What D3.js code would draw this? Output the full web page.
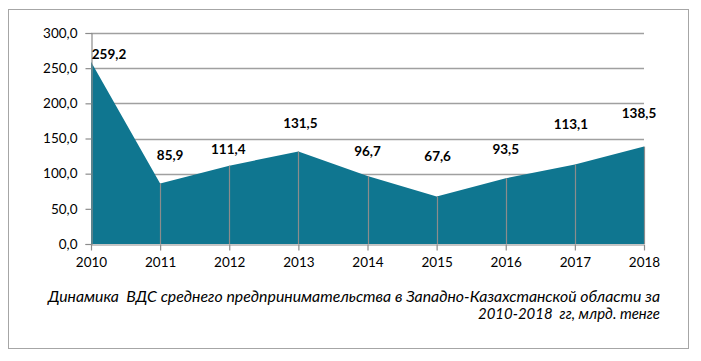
<!DOCTYPE html>
<html><head><meta charset="utf-8">
<script src="https://cdn.jsdelivr.net/npm/d3@7"></script>
<style>
html,body{margin:0;padding:0;background:#fff;}
svg{display:block;}
text{font-family:Lato,"Open Sans",sans-serif;}
</style></head>
<body>
<svg id="chart" width="701" height="361"></svg>
<script>
const years = ["2010","2011","2012","2013","2014","2015","2016","2017","2018"];
const values = [259.2, 85.9, 111.4, 131.5, 96.7, 67.6, 93.5, 113.1, 138.5];
const valueLabels = ["259,2","85,9","111,4","131,5","96,7","67,6","93,5","113,1","138,5"];
const yTicks = [0, 50, 100, 150, 200, 250, 300];
const captionLines = ["Динамика  ВДС среднего предпринимательства в Западно-Казахстанской области за", "2010-2018  гг, млрд. тенге"];
// label layout offsets (px) relative to each point
const labelDx = [18, 10, -1, 2, 0, 1, 0, -4, -5];
const labelDy = [-8, -29, -17, -29, -25, -40, -29, -40, -34];
const captionWidths = [612, 182];

const svg = d3.select("#chart");
const fmt = v => d3.format(".1f")(v).replace(".", ",");

// outer border
svg.append("rect").attr("x", 8.5).attr("y", 9.5).attr("width", 680).attr("height", 339)
  .attr("fill", "#fff").attr("stroke", "#a6a6a6").attr("stroke-width", 1);

const x = d3.scalePoint().domain(years).range([91, 644]);
const y = d3.scaleLinear().domain([0, 300]).range([244, 33]);

// gridlines
svg.append("g").selectAll("line").data(yTicks.filter(t => t > 0)).join("line")
  .attr("x1", 91).attr("x2", 644)
  .attr("y1", d => Math.round(y(d)) + 0.5).attr("y2", d => Math.round(y(d)) + 0.5)
  .attr("stroke", "#a0a0a0").attr("stroke-width", 1.3);

// area
const data = years.map((yr, i) => ({yr, v: values[i], lab: valueLabels[i], dx: labelDx[i], dy: labelDy[i]}));
const area = d3.area().x(d => x(d.yr)).y0(y(0)).y1(d => y(d.v));
svg.append("path").datum(data).attr("d", area).attr("fill", "#0f7690");

// drop lines
svg.append("g").selectAll("line").data(data.slice(1)).join("line")
  .attr("x1", d => Math.round(x(d.yr)) + 0.5).attr("x2", d => Math.round(x(d.yr)) + 0.5)
  .attr("y1", d => y(d.v)).attr("y2", y(0))
  .attr("stroke", "#8c8c8c").attr("stroke-width", 1.2);

// axes
const yAxis = d3.axisLeft(y).tickValues(yTicks).tickFormat(fmt).tickSize(6).tickPadding(8);
const gy = svg.append("g").attr("transform", "translate(91.5,0)").call(yAxis);
const xAxis = d3.axisBottom(x).tickSize(6).tickPadding(7);
const gx = svg.append("g").attr("transform", "translate(0,244.5)").call(xAxis);
[gy, gx].forEach(g => {
  g.select(".domain").attr("stroke", "#8c8c8c").attr("stroke-width", 1.2);
  g.selectAll(".tick line").attr("stroke", "#8c8c8c").attr("stroke-width", 1.2);
  g.selectAll(".tick text").attr("fill", "#000").attr("font-size", 13.5)
    .attr("font-family", "Lato, 'Open Sans', sans-serif");
});
gx.select(".domain").attr("d", "M91,0.5H644");

// data labels
svg.append("g").selectAll("text").data(data).join("text")
  .attr("x", d => x(d.yr) + d.dx).attr("y", d => y(d.v) + d.dy)
  .attr("text-anchor", "middle").attr("dominant-baseline", "central")
  .attr("font-size", 13.5).attr("font-weight", "bold").attr("fill", "#000")
  .text(d => d.lab);

// caption
svg.append("g").selectAll("text").data(captionLines).join("text")
  .attr("x", 660).attr("y", (d, i) => 302 + i * 17)
  .attr("text-anchor", "end").attr("font-style", "italic").attr("font-size", 14.5)
  .attr("textLength", (d, i) => captionWidths[i]).attr("lengthAdjust", "spacingAndGlyphs")
  .style("white-space", "pre")
  .attr("fill", "#000").text(d => d);
</script>
</body></html>
